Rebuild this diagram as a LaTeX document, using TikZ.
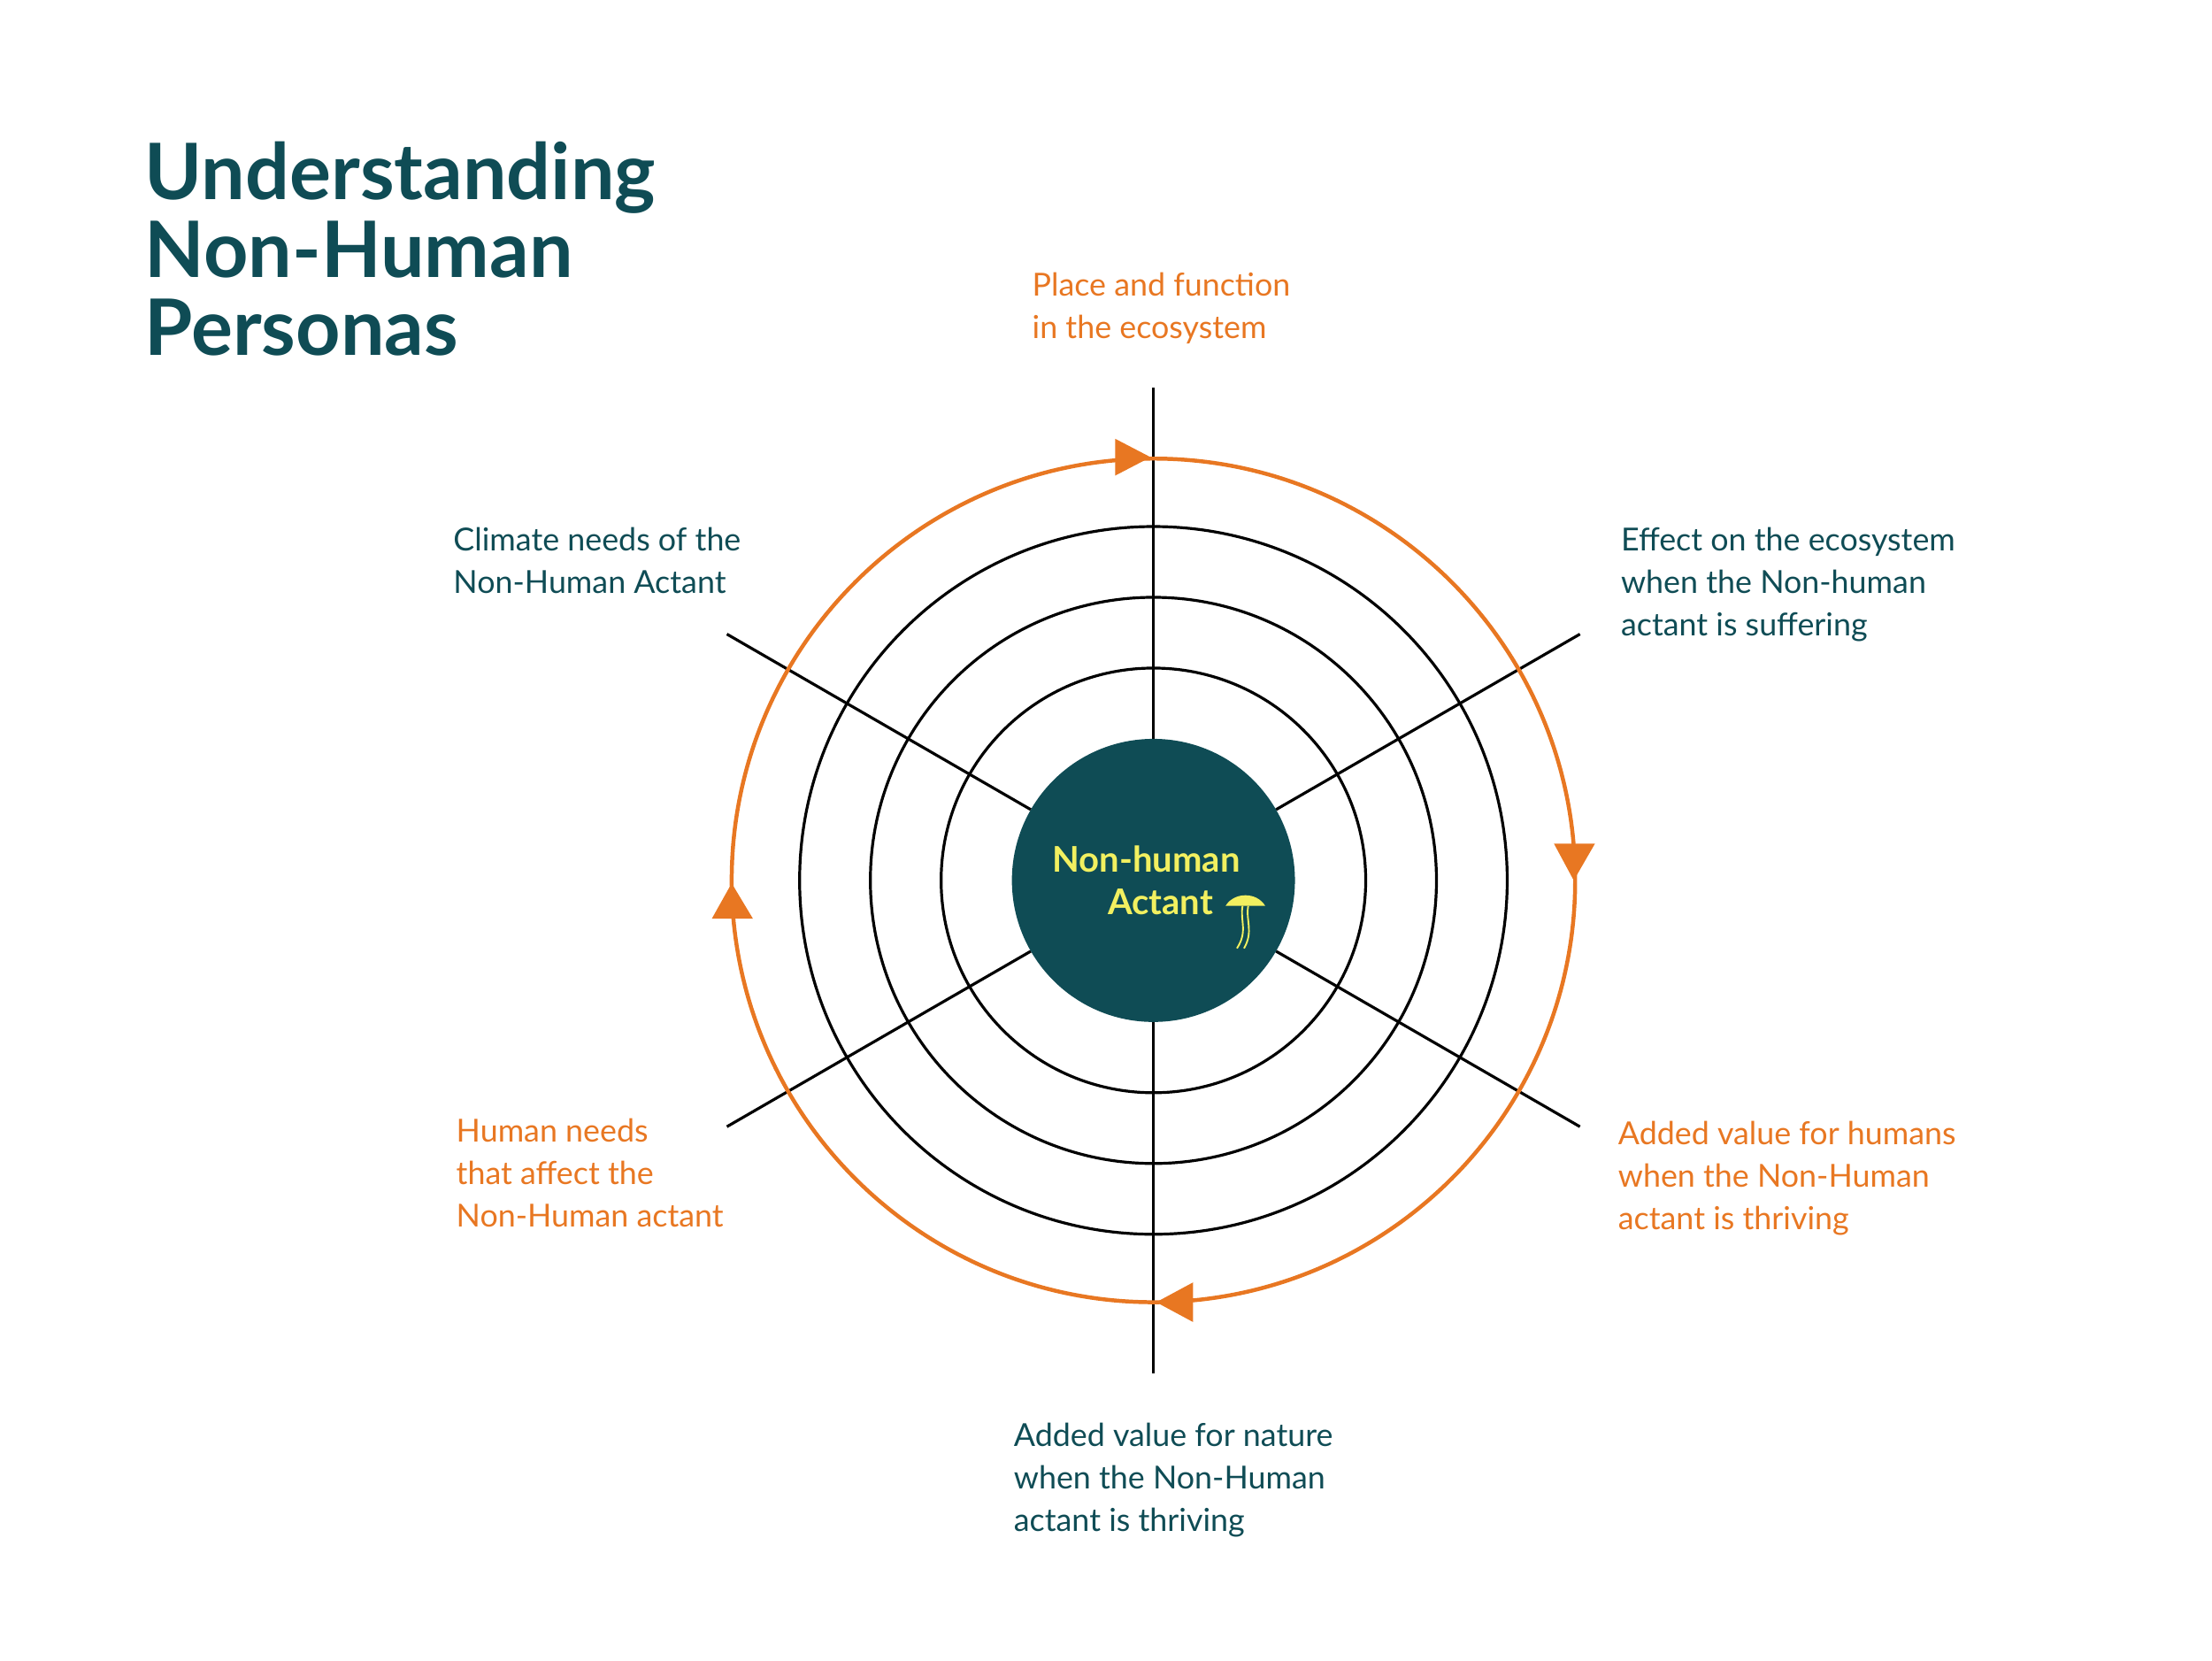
\documentclass[tikz,border=0pt]{standalone}
\usetikzlibrary{calc}
\usepackage{fontspec}
\setmainfont{Lato}
\definecolor{teal}{HTML}{0F4C55}
\definecolor{org}{HTML}{E87722}
\definecolor{yel}{HTML}{F2F060}
\begin{document}
\begin{tikzpicture}[x=0.5pt,y=-0.5pt,
  lbl/.style={anchor=north west,align=left,font=\fontsize{11.2}{15}\selectfont,inner sep=0},
  tl/.style={lbl,text=teal}, ol/.style={lbl,text=org},
  tri/.style={fill=org,draw=none}]
\useasboundingbox (0,0) rectangle (1563,1173);
\coordinate (c) at (815,622);
\node[anchor=north west,inner sep=0,text=teal,align=left,font=\fontsize{27.5}{27.5}\bfseries\selectfont] (title) at (102,100) {Understanding\\Non-Human\\Personas};
\foreach \r in {150,200,250} \draw[line width=1pt] (c) circle (\r);
\foreach \a in {90,30,-30,-90,-150,150} \draw[line width=1pt] ($(c)+(\a:100)$) -- ($(c)+(\a:348)$);
\draw[org,line width=1.4pt] (c) circle (298);
\node[circle,fill=teal,minimum size=100pt,inner sep=0] (core) at (c) {};
\node[text=yel,align=center,font=\fontsize{12.5}{15}\bfseries\selectfont] (ct) at (810,622) {Non-human\\\hspace*{0.8em}Actant};
% fungus icon
\begin{scope}[shift={(880,640)},yel,line width=0.6pt]
\fill (-14,0) .. controls (-8,-10) and (8,-10) .. (14,0) -- cycle;
\draw (-2,0) .. controls (-4,10) and (2,18) .. (-6,30);
\draw (2,0) .. controls (0,10) and (6,18) .. (-1,30);
\end{scope}
% arrowheads
\fill[tri] (813,323) -- (788,310) -- (788,336) -- cycle;
\fill[tri] (1112,622) -- (1098,596) -- (1127,596) -- cycle;
\fill[tri] (817,920) -- (843,906) -- (843,934) -- cycle;
\fill[tri] (517,624) -- (503,649) -- (532,649) -- cycle;
% labels
\node[ol] (l1) at (729,192) {Place and function\\in the ecosystem};
\node[tl] (l2) at (1145,372) {Effect on the ecosystem\\when the Non-human\\actant is suffering};
\node[ol] (l3) at (1143,792) {Added value for humans\\when the Non-Human\\actant is thriving};
\node[tl] (l4) at (716,1005) {Added value for nature\\when the Non-Human\\actant is thriving};
\node[ol] (l5) at (322,790) {Human needs\\that affect the\\Non-Human actant};
\node[tl] (l6) at (320,372) {Climate needs of the\\Non-Human Actant};
\end{tikzpicture}
\end{document}
